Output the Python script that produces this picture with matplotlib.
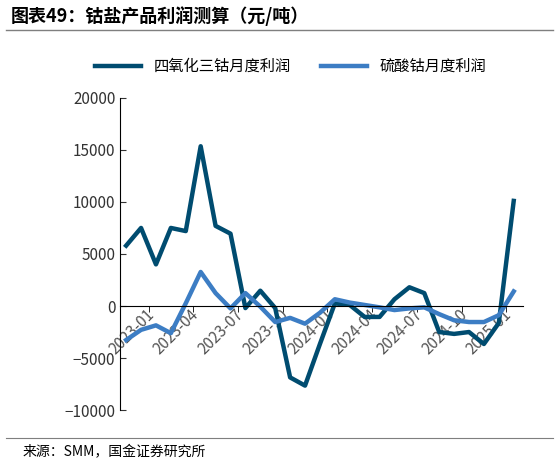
import matplotlib.pyplot as plt
import numpy as np

plt.rcParams["font.family"] = ["Noto Sans CJK SC", "DejaVu Sans"]

months = ["2023-01", "2023-02", "2023-03", "2023-04", "2023-05", "2023-06", "2023-07",
          "2023-08", "2023-09", "2023-10", "2023-11", "2023-12", "2024-01", "2024-02",
          "2024-03", "2024-04", "2024-05", "2024-06", "2024-07", "2024-08", "2024-09",
          "2024-10", "2024-11", "2024-12", "2025-01", "2025-02", "2025-03"]
tetroxide = [5800, 7500, 4000, 7500, 7200, 15350, 7700, 6950, -200, 1470, -200, -6860,
             -7650, -3650, 250, 100, -1050, -1050, 650, 1800, 1240, -2500, -2680, -2500,
             -3650, -1630, 10100]
sulfate = [-3270, -2290, -1860, -2610, 260, 3270, 1240, -230, 1240, -65, -1540, -1140,
           -1700, -650, 650, 330, 100, -130, -390, -230, -130, -780, -1370, -1540,
           -1540, -880, 1400]

fig = plt.figure(figsize=(5.59, 4.66), dpi=100)
ax = fig.add_axes([0.215, 0.12, 0.72, 0.67])
x = np.arange(len(months))
ax.plot(x, tetroxide, color="#004C70", lw=3.2, label="四氧化三钴月度利润")
ax.plot(x, sulfate, color="#3C7DC4", lw=3.2, label="硫酸钴月度利润")

ax.set_ylim(-10000, 20000)
ax.set_yticks(range(-10000, 20001, 5000))
ax.set_xlim(-0.4, len(months) - 0.4)
ax.set_xticks(x[::3])
ax.set_xticks(np.arange(1.5, len(months), 3), minor=True)
for s in ["top", "right"]:
    ax.spines[s].set_visible(False)
ax.spines["bottom"].set_position(("data", 0))
ax.tick_params(axis="x", which="major", length=0, labelsize=11, colors="#555555", pad=0)
ax.tick_params(axis="x", which="minor", length=4, direction="out")
ax.tick_params(axis="y", labelsize=11, colors="#333333", direction="in", length=4)
ax.set_xticklabels(months[::3])
for lbl in ax.get_xticklabels():
    lbl.set_rotation(45)
    lbl.set_ha("right")
    lbl.set_va("top")
    lbl.set_rotation_mode("anchor")
    lbl.set_x(lbl.get_position()[0])

from matplotlib.transforms import ScaledTranslation
off = ScaledTranslation(14 / 72, 0, fig.dpi_scale_trans)
for lbl in ax.get_xticklabels():
    lbl.set_transform(lbl.get_transform() + off)

fig.legend(loc="upper center", bbox_to_anchor=(0.52, 0.905), ncol=2, frameon=False,
           fontsize=11, handlelength=3, columnspacing=2)

fig.text(0.02, 0.965, "图表49：钴盐产品利润测算（元/吨）", fontsize=13, fontweight="bold",
         style="italic", va="center")
fig.add_artist(plt.Line2D([0.01, 0.99], [0.935, 0.935], color="#7f7f7f", lw=1))
fig.add_artist(plt.Line2D([0.01, 0.99], [0.06, 0.06], color="#7f7f7f", lw=0.8))
fig.text(0.04, 0.03, "来源：SMM，国金证券研究所", fontsize=10, va="center")

fig.savefig("out.png", dpi=100)
